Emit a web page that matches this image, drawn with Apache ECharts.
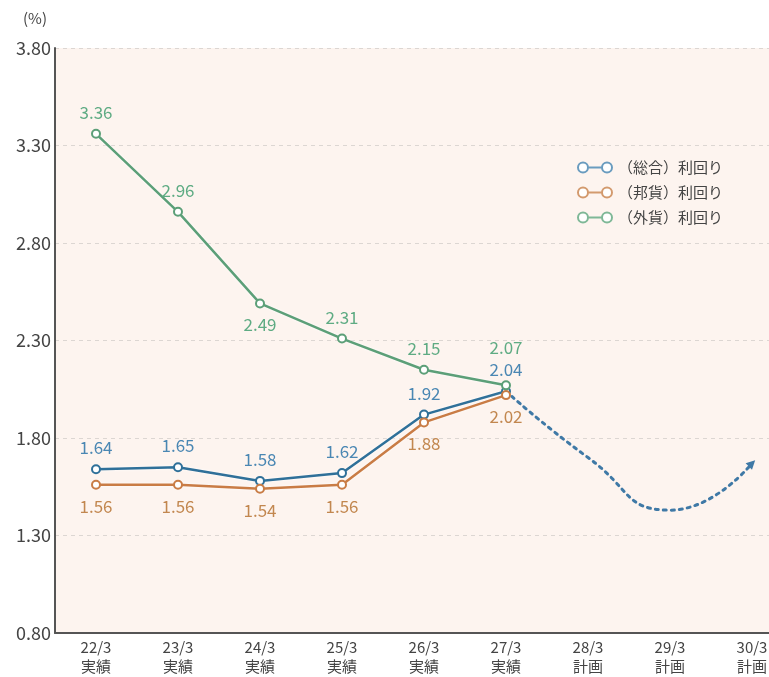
<!DOCTYPE html>
<html>
<head>
<meta charset="utf-8">
<script src="https://cdn.jsdelivr.net/npm/echarts@6/dist/echarts.min.js"></script>
<style>
  html, body { margin: 0; padding: 0; background: #ffffff; }
  #chart { width: 769px; height: 677px; }
</style>
</head>
<body>
<div id="chart"></div>
<script>
// Fiscal-year categories (year / period type)
const years = ['22/3', '23/3', '24/3', '25/3', '26/3', '27/3', '28/3', '29/3', '30/3'];
const periods = ['実績', '実績', '実績', '実績', '実績', '実績', '計画', '計画', '計画'];

// Yields (%)
const totalYield = [1.64, 1.65, 1.58, 1.62, 1.92, 2.04];
const yenYield = [1.56, 1.56, 1.54, 1.56, 1.88, 2.02];
const foreignYield = [3.36, 2.96, 2.49, 2.31, 2.15, 2.07];

// Planned direction sketch (from 27/3 onward)
const planPath = [null, null, null, null, null, 2.04, 1.70, 1.43, 1.67];

// Y axis ticks
const yMin = 0.8, yMax = 3.8, yStep = 0.5;

const names = ['（総合）利回り', '（邦貨）利回り', '（外貨）利回り'];
const lineColors = ['#2f7099', '#c97c45', '#5c9f78'];
const labelColors = ['#4a87b3', '#c2874f', '#5eab83'];
const legendColors = ['#6a9cbf', '#d39a6e', '#7fb897'];
const font = '"Noto Sans CJK JP", "Noto Sans", sans-serif';

function lineSeries(idx, values, pos, overrides) {
  return {
    name: names[idx],
    type: 'line',
    data: values.map((v, i) => {
      const o = overrides && overrides[i];
      return o ? Object.assign({ value: v }, o) : v;
    }),
    symbol: 'emptyCircle',
    symbolSize: 8,
    z: 3 + idx,
    itemStyle: { color: lineColors[idx], borderWidth: 1.5, borderColor: lineColors[idx] },
    lineStyle: { color: lineColors[idx], width: 2.5, shadowColor: 'rgba(255,255,255,0.9)', shadowBlur: 3 },
    label: {
      show: true,
      position: pos,
      distance: 8,
      color: labelColors[idx],
      fontSize: 17,
      fontFamily: font,
      formatter: p => Number(p.value).toFixed(2)
    },
    emphasis: { disabled: true }
  };
}

const chart = echarts.init(document.getElementById('chart'));
const series = [
  lineSeries(0, totalYield, 'top'),
  lineSeries(1, yenYield, 'bottom'),
  lineSeries(2, foreignYield, 'top', {
    2: { label: { position: 'bottom' } },
    5: { label: { distance: 24 } }
  }),
  {
    name: 'plan',
    type: 'line',
    data: planPath.map((v, i) => i === planPath.length - 1
      ? { value: v, symbol: 'triangle', symbolSize: 9, symbolRotate: -45 }
      : v),
    smooth: 0.55,
    symbol: 'none',
    z: 2,
    lineStyle: { color: '#3f79a6', width: 3, type: [3, 5], cap: 'round' },
    itemStyle: { color: '#3f79a6' },
    label: { show: false },
    emphasis: { disabled: true }
  }
];

// Legend markers: a short line with a ring at each end
const legendIcon = 'path://M0,5 A5,5 0 1 1 10,5 A5,5 0 1 1 0,5 Z M10,5 L24,5 M24,5 A5,5 0 1 1 34,5 A5,5 0 1 1 24,5 Z';

chart.setOption({
  animation: false,
  backgroundColor: '#ffffff',
  grid: {
    left: 55, top: 48, height: 585, width: 738,
    outerBoundsMode: 'none',
    show: true, backgroundColor: '#fdf4ef', borderWidth: 0
  },
  legend: {
    data: names.map((n, i) => ({
      name: n,
      icon: legendIcon,
      itemStyle: { color: '#ffffff', borderColor: legendColors[i], borderWidth: 2 }
    })),
    orient: 'vertical',
    left: 572, top: 155,
    itemWidth: 36, itemHeight: 10, itemGap: 10,
    textStyle: { color: '#444', fontSize: 15, fontFamily: font, padding: [0, 0, 0, 0] }
  },
  xAxis: {
    type: 'category',
    data: years,
    boundaryGap: true,
    axisLine: { lineStyle: { color: '#555', width: 2 } },
    axisTick: { show: false },
    axisLabel: {
      interval: 0,
      margin: 5,
      color: '#444',
      fontSize: 15,
      lineHeight: 19,
      fontFamily: font,
      formatter: (v, i) => v + '\n' + periods[i]
    }
  },
  yAxis: {
    type: 'value',
    min: yMin, max: yMax, interval: yStep,
    name: '(%)',
    nameLocation: 'end',
    nameGap: 22,
    nameTextStyle: { color: '#444', fontSize: 15, fontFamily: font, align: 'right', padding: [0, 8, 0, 0] },
    axisLine: { show: true, lineStyle: { color: '#555', width: 2 } },
    axisTick: { show: false },
    axisLabel: {
      color: '#444', fontSize: 18, margin: 4, fontFamily: font,
      formatter: v => v.toFixed(2)
    },
    splitLine: { show: true, lineStyle: { color: '#dcd6d2', type: [4, 4], width: 1 } }
  },
  series: series
});
</script>
</body>
</html>
